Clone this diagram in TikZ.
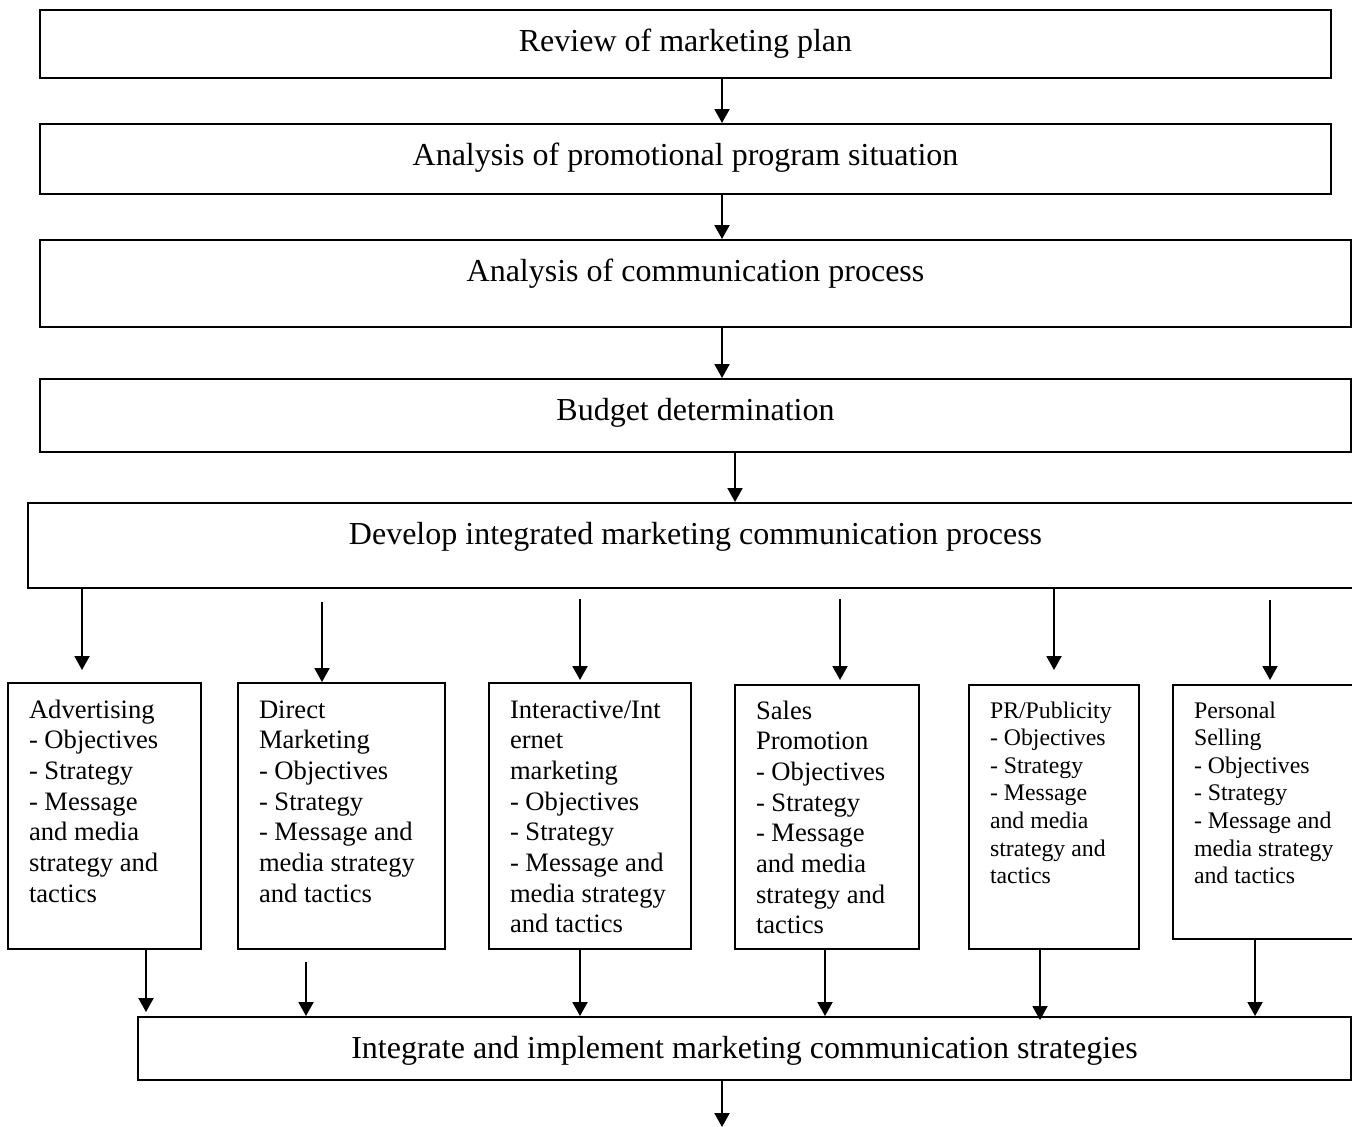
\documentclass[tikz,border=0pt]{standalone}
\usepackage{fontspec}
\setmainfont{Liberation Serif}
\usetikzlibrary{arrows.meta}

\tikzset{
  stage/.style={draw, line width=1pt, anchor=north west, inner sep=0pt,
    text height=20.5pt, font=\fontsize{16}{18.4}\selectfont},
  tool/.style={draw, line width=1pt, anchor=north west, inner xsep=10.5pt,
    inner ysep=6.75pt, font=\fontsize{13.3}{15.35}\selectfont},
  smalltool/.style={tool, inner ysep=6.85pt, font=\fontsize{11.9}{13.8}\selectfont},
  arr/.style={line width=1pt, -{Triangle[length=7pt,width=7.5pt]}}
}
\newcommand{\toollines}[3]{\parbox[t][#2][t]{#1}{\raggedright\strut#3}}

\begin{document}
\begin{tikzpicture}[x=0.5pt,y=-0.5pt]
\useasboundingbox (0,0) rectangle (1352,1126);

% Planning steps
\node[stage, minimum width=645.5pt, text depth=13.5pt] (review) at (39,9) {Review of marketing plan};
\node[stage, minimum width=645.5pt, text depth=14.5pt] (situation) at (39,123) {Analysis of promotional program situation};
\node[stage, minimum width=655.5pt, text depth=23pt] (commproc) at (39,239) {Analysis of communication process};
\node[stage, minimum width=655.5pt, text depth=16pt] (budget) at (39,378) {Budget determination};
\node[stage, minimum width=667.5pt, text depth=22pt] (develop) at (27,502) {Develop integrated marketing communication process};

% Promotional mix elements
\node[tool] (adv) at (7,682) {\toollines{75.5pt}{119.5pt}{Advertising\\- Objectives\\- Strategy\\- Message\\and media\\strategy and\\tactics}};
\node[tool] (direct) at (237,682) {\toollines{82.5pt}{119.5pt}{Direct\\Marketing\\- Objectives\\- Strategy\\- Message and\\media strategy\\and tactics}};
\node[tool] (inter) at (488,682) {\toollines{80pt}{119.5pt}{Interactive/Int\\ernet\\marketing\\- Objectives\\- Strategy\\- Message and\\media strategy\\and tactics}};
\node[tool, inner ysep=6.25pt] (sales) at (734,684) {\toollines{71pt}{119.5pt}{Sales\\Promotion\\- Objectives\\- Strategy\\- Message\\and media\\strategy and\\tactics}};
\node[smalltool] (pr) at (968,684) {\toollines{64pt}{118.3pt}{PR/Publicity\\- Objectives\\- Strategy\\- Message\\and media\\strategy and\\tactics}};
\node[smalltool] (pers) at (1172,684) {\toollines{74pt}{113.3pt}{Personal\\Selling\\- Objectives\\- Strategy\\- Message and\\media strategy\\and tactics}};

% Final step
\node[stage, minimum width=606.5pt, text depth=11pt] (integrate) at (137,1016) {Integrate and implement marketing communication strategies};

% Arrows down the steps
\coordinate (spine) at (722,0);
\coordinate (spine2) at (735,0);
\draw[arr] (review.south -| spine) -- (situation.north -| spine);
\draw[arr] (situation.south -| spine) -- (commproc.north -| spine);
\draw[arr] (commproc.south -| spine) -- (budget.north -| spine);
\draw[arr] (budget.south -| spine2) -- (develop.north -| spine2);

% Arrows to the elements
\foreach \b/\x/\s/\e in {adv/82/0pt/6pt, direct/322/6.5pt/0pt, inter/580/5pt/1pt,
    sales/840/5pt/2pt, pr/1054/0pt/7pt, pers/1270/5.5pt/2pt}{
  \coordinate (c) at (\x,0);
  \draw[arr, shorten <=\s, shorten >=\e] (develop.south -| c) -- (\b.north -| c);
}

% Arrows to the final step
\foreach \b/\x/\s/\e in {adv/146/0pt/2pt, direct/306/6pt/0pt, inter/580/0pt/0pt,
    sales/825/0pt/0pt, pr/1040/0pt/-2pt, pers/1255/0pt/0pt}{
  \coordinate (c) at (\x,0);
  \draw[arr, shorten <=\s, shorten >=\e] (\b.south -| c) -- (integrate.north -| c);
}

\coordinate (out) at (722,1127);
\draw[arr] (integrate.south -| out) -- (out);

\end{tikzpicture}
\end{document}
